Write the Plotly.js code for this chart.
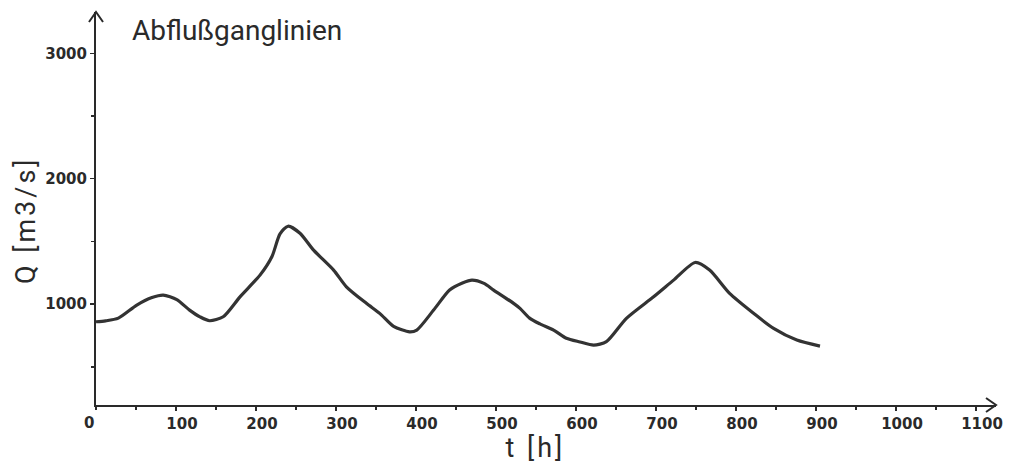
<!DOCTYPE html>
<html>
<head>
<meta charset="utf-8">
<script src="https://cdn.plot.ly/plotly-3.0.1.min.js"></script>
<style>
html,body{margin:0;padding:0;background:#fff;}
#chart{width:1012px;height:468px;}
</style>
</head>
<body>
<div id="chart"></div>
<script>
// Discharge hydrograph
const timeHours = [0, 12, 28, 51, 70, 84, 101, 117, 130, 142, 159, 180, 205, 220, 230, 240, 255, 272, 297, 313, 338, 355, 372, 392, 401, 422, 442, 458, 470, 485, 497, 522, 530, 542, 555, 572, 588, 605, 622, 638, 663, 697, 722, 749, 767, 792, 822, 847, 876, 905];
const discharge = [859, 866, 888, 992, 1052, 1072, 1035, 952, 898, 867, 899, 1058, 1231, 1380, 1560, 1621, 1565, 1430, 1271, 1138, 1006, 924, 822, 779, 793, 952, 1112, 1168, 1191, 1165, 1112, 1006, 966, 888, 842, 793, 727, 698, 673, 700, 886, 1058, 1191, 1332, 1271, 1085, 926, 806, 713, 665];

const xTickVals = [100, 200, 300, 400, 500, 600, 700, 800, 900, 1000, 1100];
const xTickText = ['100', '200', '300', '400', '500', '600', '700', '800', '900', '1000', '1100'];
const yTickVals = [1000, 2000, 3000];
const yTickText = ['1000', '2000', '3000'];

const titleText = 'Abflußganglinien';
const yTitleText = 'Q [m3/s]';
const xTitleText = 't [h]';

const ink = '#2a2a2a';
const tickFont = {family: 'DejaVu Sans', size: 15, color: ink, weight: 'bold'};
const labelFont = {family: 'Roboto', size: 27, color: ink};

const trace = {
  x: timeHours,
  y: discharge,
  type: 'scatter',
  mode: 'lines',
  line: {color: '#333', width: 3.2, shape: 'spline', smoothing: 0.7},
  hoverinfo: 'skip'
};

const layout = {
  width: 1012,
  height: 468,
  margin: {l: 96, r: 16, t: 12, b: 63},
  paper_bgcolor: '#fff',
  plot_bgcolor: '#fff',
  showlegend: false,
  xaxis: {
    range: [0, 1125],
    showgrid: false, zeroline: false,
    showline: true, linecolor: ink, linewidth: 2,
    ticks: 'outside', ticklen: 4, tickwidth: 1.5, tickcolor: ink,
    tickvals: xTickVals, ticktext: xTickText,
    ticklabelshift: 6,
    tickfont: tickFont,
    minor: {dtick: 50, tick0: 0, ticks: 'outside', ticklen: 3, tickwidth: 1.5, tickcolor: ink, showgrid: false}
  },
  yaxis: {
    range: [195, 3330],
    showgrid: false, zeroline: false,
    showline: true, linecolor: ink, linewidth: 2,
    ticks: 'outside', ticklen: 4, tickwidth: 1.5, tickcolor: ink,
    tickvals: yTickVals, ticktext: yTickText,
    tickfont: tickFont,
    minor: {dtick: 500, tick0: 0, ticks: 'outside', ticklen: 3, tickwidth: 1.5, tickcolor: ink, showgrid: false}
  },
  shapes: [
    {type: 'path', xref: 'paper', yref: 'paper', path: 'M -0.0078 0.9746 L 0 1 L 0.0078 0.9746', line: {color: ink, width: 2}},
    {type: 'path', xref: 'paper', yref: 'paper', path: 'M 0.9889 0.0178 L 1 0 L 0.9889 -0.0178', line: {color: ink, width: 2}}
  ],
  annotations: [
    {text: titleText, xref: 'paper', yref: 'paper', x: 0.0378, y: 0.954, xanchor: 'left', yanchor: 'middle', showarrow: false, font: {family: 'Roboto', size: 28, color: ink}},
    {text: yTitleText, xref: 'paper', yref: 'paper', x: -0.0778, y: 0.4707, xanchor: 'center', yanchor: 'middle', textangle: -90, showarrow: false, font: labelFont},
    {text: xTitleText, xref: 'paper', yref: 'paper', x: 0.4878, y: -0.1094, xanchor: 'center', yanchor: 'middle', showarrow: false, font: labelFont},
    {text: '0', xref: 'paper', yref: 'paper', x: -0.0078, y: -0.0458, xanchor: 'center', yanchor: 'middle', showarrow: false, font: tickFont}
  ]
};

Plotly.newPlot('chart', [trace], layout, {staticPlot: true, displayModeBar: false}).then(function (gd) {
  const texts = gd.querySelectorAll('.annotation-text');
  texts.forEach(function (t) {
    const s = t.textContent;
    if (s === yTitleText || s === xTitleText) {
      t.style.letterSpacing = '3px';
    }
  });
});
</script>
</body>
</html>
